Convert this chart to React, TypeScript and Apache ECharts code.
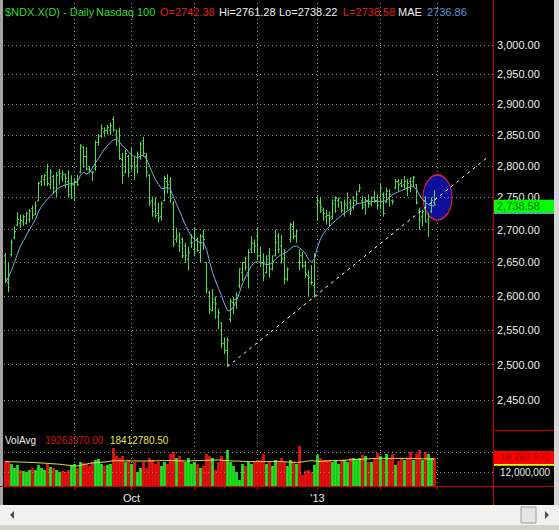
import React, { useEffect, useRef } from "react";
import * as echarts from "echarts";

// ---- trading days (categories) ----
const aug2012 = [1, 2, 3, 6, 7, 8, 9, 10, 13, 14, 15, 16, 17, 20, 21, 22, 23, 24, 27, 28, 29, 30, 31];
const sep2012 = [4, 5, 6, 7, 10, 11, 12, 13, 14, 17, 18, 19, 20, 21, 24, 25, 26, 27, 28];
const oct2012 = [1, 2, 3, 4, 5, 8, 9, 10, 11, 12, 15, 16, 17, 18, 19, 22, 23, 24, 25, 26, 31];
const nov2012 = [1, 2, 5, 6, 7, 8, 9, 12, 13, 14, 15, 16, 19, 20, 21, 23, 26, 27, 28, 29, 30];
const dec2012 = [3, 4, 5, 6, 7, 10, 11, 12, 13, 14, 17, 18, 19, 20, 21, 24, 26, 27, 28, 31];
const jan2013 = [2, 3, 4, 7, 8, 9, 10, 11, 14, 15, 16, 17, 18, 22, 23, 24, 25, 28, 29, 30, 31];
const feb2013 = [1, 4, 5, 6, 7, 8, 11, 12, 13, 14, 15, 19, 20, 21, 22, 25, 26, 27, 28];
const mar2013Future = [1, 4, 5, 6, 7, 8, 11, 12, 13, 14, 15, 18, 19, 20, 21, 22, 25, 26, 27];

const monthLists: [string, number[]][] = [
  ["2012-08", aug2012], ["2012-09", sep2012], ["2012-10", oct2012], ["2012-11", nov2012],
  ["2012-12", dec2012], ["2013-01", jan2013], ["2013-02", feb2013], ["2013-03", mar2013Future],
];

// ---- price data ----
const open = [2660,2620,2662,2688,2707,2710,2712,2710,2716,2733, 2724,2745,2775,2778,2790,2770,2783,2760,2790,2782,
  2787,2775,2768,2770,2775,2790,2830,2815,2795,2790, 2795,2838,2848,2855,2857,2858,2875,2850,2855,2810,
  2790,2815,2800,2805,2800,2815,2840,2815,2785,2745, 2740,2725,2720,2745,2775,2775,2740,2685,2675,2685,
  2675,2655,2680,2670,2685,2665,2690,2650,2605,2578, 2595,2570,2560,2530,2520,2565,2590,2595,2615,2635,
  2650,2630,2670,2678,2690,2660,2650,2635,2660,2640, 2660,2690,2675,2650,2625,2685,2705,2690,2650,2660,
  2645,2630,2620,2615,2740,2742,2730,2720,2722,2720, 2745,2745,2742,2725,2738,2742,2735,2745,2760,2745,
  2738,2745,2740,2750,2745,2750,2755,2742,2750,2745, 2765,2775,2772,2770,2765,2775,2775,2770,2730,2720,
  2745,2715,2728,2742.38];
const high = [2664,2649,2685,2705,2727,2723,2723,2727,2732,2737, 2744,2775,2785,2787,2803,2795,2786,2790,2795,2793,
  2787,2793,2785,2781,2786,2835,2832,2830,2800,2792, 2841,2851,2867,2862,2866,2870,2880,2859,2862,2821,
  2826,2818,2829,2815,2823,2839,2847,2821,2787,2752, 2750,2742,2744,2784,2787,2782,2744,2703,2696,2688,
  2680,2674,2693,2703,2688,2693,2700,2650,2607,2610, 2599,2581,2561,2539,2539,2596,2598,2605,2641,2651,
  2659,2670,2690,2685,2704,2674,2664,2661,2672,2661, 2700,2695,2692,2670,2643,2711,2713,2700,2670,2666,
  2653,2638,2646,2664,2752,2750,2734,2731,2728,2747, 2752,2750,2744,2747,2758,2747,2752,2760,2771,2752,
  2750,2755,2752,2760,2755,2771,2758,2766,2763,2747, 2779,2779,2779,2784,2779,2782,2784,2771,2734,2731,
  2752,2726,2750,2761.28];
const low = [2619,2605,2659,2685,2705,2703,2706,2708,2711,2716, 2723,2744,2768,2768,2768,2763,2756,2750,2770,2775,
  2765,2750,2748,2744,2768,2788,2797,2793,2788,2776, 2792,2832,2845,2847,2851,2850,2855,2832,2810,2771,
  2788,2782,2793,2778,2788,2810,2815,2782,2737,2720, 2718,2711,2714,2744,2756,2742,2673,2680,2666,2656,
  2649,2638,2672,2659,2666,2650,2669,2604,2573,2577, 2566,2551,2523,2515,2497,2561,2573,2581,2611,2622,
  2638,2611,2664,2664,2653,2643,2622,2633,2627,2638, 2659,2664,2648,2617,2622,2680,2685,2680,2638,2641,
  2627,2598,2616,2597,2714,2726,2714,2708,2705,2716, 2726,2734,2726,2720,2731,2723,2731,2739,2758,2731,
  2723,2734,2736,2742,2731,2731,2720,2742,2736,2739, 2763,2760,2766,2763,2752,2758,2766,2739,2700,2705,
  2711,2689,2726,2738.22];
const close = [2625,2612,2680,2697,2716,2714,2720,2725,2729,2722, 2738,2772,2784,2785,2772,2790,2765,2785,2788,2787,
  2780,2755,2770,2775,2770,2832,2815,2795,2792,2790, 2838,2848,2860,2857,2862,2865,2858,2845,2812,2785,
  2820,2790,2800,2798,2818,2835,2820,2790,2742,2728, 2722,2718,2740,2780,2770,2748,2678,2690,2680,2660,
  2660,2665,2680,2700,2668,2690,2685,2610,2580,2590, 2588,2575,2530,2520,2535,2592,2594,2600,2640,2650,
  2643,2665,2680,2675,2660,2650,2630,2655,2640,2650, 2680,2670,2655,2625,2640,2708,2690,2698,2660,2645,
  2632,2628,2620,2660,2745,2735,2725,2722,2718,2740, 2748,2748,2730,2740,2750,2730,2745,2755,2765,2735,
  2745,2740,2748,2745,2738,2765,2725,2760,2755,2744, 2775,2770,2768,2775,2772,2770,2782,2742,2715,2728,
  2712,2720,2745,2738.58];
const maeLine = [2620,2628,2638,2650,2663,2675,2683,2692,2700,2708, 2716,2728,2736,2742,2748,2752,2757,2762,2766,2768,
  2770,2771,2772,2773,2775,2785,2790,2787,2790,2797, 2805,2812,2820,2827,2833,2838,2842,2843,2838,2832,
  2828,2822,2818,2815,2813,2816,2817,2811,2800,2788, 2778,2771,2764,2764,2766,2763,2750,2740,2729,2718,
  2707,2697,2690,2685,2682,2680,2680,2670,2652,2635, 2622,2611,2600,2588,2578,2578,2584,2592,2605,2618,
  2628,2637,2645,2650,2651,2650,2648,2647,2647,2650, 2655,2659,2662,2664,2667,2671,2674,2675,2672,2668,
  2663,2655,2650,2656,2673,2686,2694,2700,2705,2710, 2714,2718,2722,2726,2729,2732,2736,2740,2741,2742,
  2743,2744,2744,2744,2744,2744,2744,2745,2750,2754, 2757,2759,2761,2763,2765,2767,2768,2762,2754,2747,
  2742,2739,2737,2736.86];

// ---- volume data (millions of shares) ----
const volumeM = [17.5,17,16,14,15.5,13,12.5,12,13,14, 13,15.5,14,13,16,14.5,14,13,12,12.5,
  12,13,15,16,14,17,16.5,16,15,17, 18,18.5,16,15,15.5,16,24,20,19,20,
  17,18,16,17,12,14,17,14,19,18, 16,17,15,17,16,21,22,19,20,18,
  17,19,16,17,16,14,15,21,20,19, 13,17,20,18,23,17,15,12,8,16,
  15,17,16,17,18,18,21,16,17,15, 18,17,19,17,15,18,17,16,25,10.5,
  12.5,13,12,15.5,20.7,19,18,18,18,17, 18,16,18,18,17,19,19,18,19,20.5,
  20,17,17,19,21.5,20,18,21,19,21, 15.5,17.5,19,18,19,22,18,21,23,18,
  22,21,19,19.26397];
const volAvgM = [17.2,17.2,17.1,17.1,17.0,17.0,16.9,16.9,16.8,16.8, 16.7,16.6,16.5,16.4,16.3,16.2,16.1,16.0,15.9,15.7,
  15.5,15.4,15.2,15.1,15.0,15.3,15.7,16.0,16.3,16.5, 16.7,16.8,16.9,17.0,17.2,17.4,17.6,17.7,17.7,17.6,
  17.6,17.6,17.5,17.5,17.5,17.5,17.5,17.5,17.5,17.6, 17.6,17.6,17.7,17.7,17.7,17.7,17.7,17.6,17.6,17.6,
  17.5,17.5,17.6,17.7,17.7,17.7,17.8,17.8,17.9,18.0, 18.0,18.0,17.9,17.8,17.7,17.6,17.5,17.5,17.4,17.3,
  17.3,17.2,17.2,17.2,17.2,17.2,17.2,17.2,17.2,17.2, 17.3,17.3,17.2,17.1,17.0,16.9,16.9,16.8,16.9,17.1,
  17.3,17.5,17.7,17.5,17.3,17.3,17.4,17.5,17.6,17.7, 17.7,17.8,17.8,17.9,18.0,18.1,18.2,18.3,18.3,18.4,
  18.5,18.6,18.7,18.8,18.8,18.8,18.8,18.8,18.8,18.8, 18.8,18.8,18.8,18.8,18.8,18.8,18.8,18.7,18.7,18.6,
  18.6,18.5,18.5,18.4127805];

// ---- axes / annotations ----
const priceTicks = [2450, 2500, 2550, 2600, 2650, 2700, 2750, 2800, 2850, 2900, 2950, 3000];
const priceMin = 2408.4;
const priceMax = 3072.7;
const volumeGridLines = [22000000];
const volumeTicks = [12000000];
const volumeMin = 5000000;
const volumeMax = 33000000;
const xLabelDates = ["2012-10-01", "2013-01-02"];
const xLabelTexts = ["Oct", "'13"];
const trendDates = ["2012-11-16", "2013-03-26"];
const trendValues = [2497, 2815];
const highlightDate = "2013-03-01";
const highlightPrice = 2750;
const titleText = "$NDX.X(D) - Daily";
const nameText = "Nasdaq 100";
const maName = "MAE";
const volName = "VolAvg";

const FONT = "'Liberation Sans', Arial, sans-serif";
const BAR_GREEN = "#4ade4a";

const dates: string[] = [];
monthLists.forEach(([ym, days]) => days.forEach((d) => dates.push(`${ym}-${String(d).padStart(2, "0")}`)));

const fmt2 = (v: number) => v.toLocaleString("en-US", { minimumFractionDigits: 2, maximumFractionDigits: 2 });
const fmtInt = (v: number) => Math.round(v).toLocaleString("en-US");
const isMonthStart = (idx: number) => idx > 0 && dates[idx].slice(0, 7) !== dates[idx - 1].slice(0, 7);

export default function App() {
  const ref = useRef<HTMLDivElement>(null);

  useEffect(() => {
    if (!ref.current) return;
    const chart = echarts.init(ref.current, null, { renderer: "svg" });
    const n = close.length;
    const last = n - 1;
    const ohlc = close.map((c, i) => [i, open[i], high[i], low[i], c]);
    const volumes = volumeM.map((v) => v * 1e6);
    const volAvg = volAvgM.map((v) => v * 1e6);
    const volBars = volumes.map((v, i) => ({
      value: v,
      itemStyle: { color: close[i] >= (i > 0 ? close[i - 1] : open[i]) ? "#1fe61f" : "#ee1010" },
    }));

    const dotted = { color: "#8a8a8a", type: [1, 3] as any, width: 1 };
    const hiddenLine = { color: "rgba(0,0,0,0)", width: 0 };
    const priceTickLabel = { position: "end", distance: 4, color: "#eeeeee", fontSize: 11, fontFamily: FONT };
    const volTickLabel = { position: "end", distance: 7, color: "#eeeeee", fontSize: 10, fontFamily: FONT };
    const boxLabel = (text: string, bg: string, fg: string, size: number, padLeft: number) => ({
      show: true, position: "end", distance: 0, formatter: text, backgroundColor: bg, color: fg,
      padding: [1, 2, 0, padLeft], width: 59 - padLeft, lineHeight: 12, fontSize: size, fontFamily: FONT,
      offset: [0, 1.5],
    });

    const headerItems: [number, number, string, string, number][] = [
      [5, 12, titleText, "#2fdc2f", 11],
      [96, 12, nameText, "#2fdc2f", 11],
      [160, 12, `O=${open[last].toFixed(2)}`, "#e42020", 11],
      [219, 12, `Hi=${high[last].toFixed(2)}`, "#f0f0f0", 11],
      [279, 12, `Lo=${low[last].toFixed(2)}`, "#f0f0f0", 11],
      [343, 12, `L=${close[last].toFixed(2)}`, "#e42020", 11],
      [398, 12, maName, "#f0f0f0", 11],
      [427, 12, maeLine[last].toFixed(2), "#5a96d8", 11],
      [5, 440, volName, "#f0f0f0", 10],
      [45, 440, (Math.round(volumes[last] * 100) / 100).toFixed(2), "#d01818", 10],
      [110, 440, (Math.round(volAvg[last] * 100) / 100).toFixed(2), "#e6e650", 10],
    ];

    const option: any = {
      animation: false,
      backgroundColor: "#000000",
      grid: [
        { left: 4, top: 3, width: 489, height: 427 },
        { left: 4, top: 430, width: 489, height: 56 },
      ],
      xAxis: [
        {
          type: "category", gridIndex: 0, data: dates, boundaryGap: true,
          axisLine: { show: false }, axisTick: { show: false }, axisLabel: { show: false },
          splitLine: { show: true, interval: (i: number) => isMonthStart(i), alignWithLabel: true, lineStyle: dotted },
        },
        {
          type: "category", gridIndex: 1, data: dates, boundaryGap: true,
          axisLine: { show: false },
          axisTick: { show: true, interval: (i: number) => isMonthStart(i), alignWithLabel: true, length: 4, lineStyle: { color: "#cc0000" } },
          axisLabel: {
            show: true,
            interval: (_i: number, v: string) => xLabelDates.indexOf(v) >= 0,
            formatter: (v: string) => { const k = xLabelDates.indexOf(v); return k >= 0 ? xLabelTexts[k] : ""; },
            color: "#e8e8e8", fontSize: 11, fontFamily: FONT, margin: 6,
          },
          splitLine: { show: true, interval: (i: number) => isMonthStart(i), alignWithLabel: true, lineStyle: dotted },
        },
      ],
      yAxis: [
        {
          type: "log", logBase: 10, gridIndex: 0, min: priceMin, max: priceMax, position: "right",
          axisLine: { show: false }, axisTick: { show: false }, axisLabel: { show: false }, splitLine: { show: false },
        },
        {
          type: "value", gridIndex: 1, min: volumeMin, max: volumeMax, position: "right",
          axisLine: { show: false }, axisTick: { show: false }, axisLabel: { show: false }, splitLine: { show: false },
        },
      ],
      series: [
        {
          type: "scatter", xAxisIndex: 0, yAxisIndex: 0, z: 1, silent: true,
          data: [[highlightDate, highlightPrice]],
          symbol: "circle", symbolSize: [29, 45],
          itemStyle: { color: "#0f0f9c", borderColor: "#d4213f", borderWidth: 1.5, opacity: 1 },
        },
        {
          type: "custom", xAxisIndex: 0, yAxisIndex: 0, z: 3, silent: true,
          data: ohlc,
          encode: { x: 0, y: [1, 2, 3, 4] },
          renderItem: (_p: any, api: any) => {
            const idx = api.value(0);
            const h = api.coord([idx, api.value(2)]);
            const l = api.coord([idx, api.value(3)]);
            const o = api.coord([idx, api.value(1)]);
            const c = api.coord([idx, api.value(4)]);
            const x = Math.round(h[0] - 0.5) + 0.5;
            const st = { stroke: BAR_GREEN, lineWidth: 1 };
            return {
              type: "group",
              children: [
                { type: "line", shape: { x1: x, y1: h[1], x2: x, y2: l[1] }, style: st },
                { type: "line", shape: { x1: x - 1.5, y1: o[1], x2: x, y2: o[1] }, style: st },
                { type: "line", shape: { x1: x, y1: c[1], x2: x + 1.5, y2: c[1] }, style: st },
              ],
            };
          },
        },
        {
          type: "line", xAxisIndex: 0, yAxisIndex: 0, z: 4, silent: true,
          data: maeLine, showSymbol: false, symbol: "none",
          lineStyle: { color: "#78aee4", width: 1 },
          markLine: {
            silent: true, symbol: ["none", "none"], animation: false,
            data: [
              ...priceTicks.map((v) => ({ yAxis: v, lineStyle: dotted, label: { ...priceTickLabel, formatter: fmt2(v) } })),
              { yAxis: maeLine[last], lineStyle: hiddenLine, label: boxLabel(" ", "#5a96d8", "#5a96d8", 11, 4) },
              { yAxis: close[last], lineStyle: hiddenLine, label: boxLabel(fmt2(close[last]), "#00ff00", "#0a6a0a", 11, 4) },
            ],
          },
        },
        {
          type: "line", xAxisIndex: 0, yAxisIndex: 0, z: 5, silent: true,
          data: [[trendDates[0], trendValues[0]], [trendDates[1], trendValues[1]]],
          showSymbol: false, symbol: "none",
          lineStyle: { color: "#ffffff", width: 1, type: [3, 4] },
        },
        {
          type: "bar", xAxisIndex: 1, yAxisIndex: 1, z: 2, silent: true, clip: true,
          data: volBars, barCategoryGap: "8%",
        },
        {
          type: "line", xAxisIndex: 1, yAxisIndex: 1, z: 4, silent: true,
          data: volAvg, showSymbol: false, symbol: "none",
          lineStyle: { color: "#e8e840", width: 1 },
          markLine: {
            silent: true, symbol: ["none", "none"], animation: false,
            data: [
              ...volumeGridLines.map((v) => ({ yAxis: v, lineStyle: dotted, label: { show: false } })),
              ...volumeTicks.map((v) => ({ yAxis: v, lineStyle: dotted, label: { ...volTickLabel, formatter: fmtInt(v) } })),
              { yAxis: volAvg[last], lineStyle: hiddenLine, label: { ...boxLabel(" ", "#ffff00", "#808000", 10, 7), offset: [0, 0] } },
              { yAxis: volumes[last], lineStyle: hiddenLine, label: { ...boxLabel(fmtInt(volumes[last]), "#ff0000", "#9a0000", 10, 7), offset: [0, 0] } },
            ],
          },
        },
      ],
      graphic: [
        { type: "rect", z: 100, shape: { x: 0, y: 0, width: 3, height: 505 }, style: { fill: "#a4a4a4" } },
        { type: "rect", z: 100, shape: { x: 554, y: 0, width: 5, height: 505 }, style: { fill: "#d8d8d8" } },
        { type: "rect", z: 100, shape: { x: 0, y: 505, width: 559, height: 20 }, style: { fill: "#f1f1f1" } },
        { type: "rect", z: 100, shape: { x: 0, y: 525, width: 559, height: 5 }, style: { fill: "#d4d0c8" } },
        { type: "rect", z: 101, shape: { x: 521, y: 507, width: 15, height: 16 }, style: { fill: "#e4e4e4", stroke: "#9c9c9c", lineWidth: 1 } },
        { type: "polygon", z: 101, shape: { points: [[10, 515], [14, 511], [14, 519]] }, style: { fill: "#505050" } },
        { type: "polygon", z: 101, shape: { points: [[549, 515], [545, 511], [545, 519]] }, style: { fill: "#505050" } },
        { type: "line", z: 100, shape: { x1: 493.5, y1: 0, x2: 493.5, y2: 505 }, style: { stroke: "#cc0000", lineWidth: 1 } },
        { type: "line", z: 100, shape: { x1: 493, y1: 430.5, x2: 554, y2: 430.5 }, style: { stroke: "#cc0000", lineWidth: 1 } },
        { type: "line", z: 100, shape: { x1: 0, y1: 486.5, x2: 554, y2: 486.5 }, style: { stroke: "#cc0000", lineWidth: 1 } },
        ...headerItems.map(([x, y, t, c, s]) => ({
          type: "text", z: 102, x, y,
          style: { text: t, fill: c, font: `${s}px ${FONT}`, verticalAlign: "middle" },
        })),
      ],
    };

    chart.setOption(option);
    return () => chart.dispose();
  }, []);

  return (
    <div
      ref={ref}
      style={{ position: "fixed", left: 0, top: 0, width: 559, height: 530, background: "#000" }}
    />
  );
}
